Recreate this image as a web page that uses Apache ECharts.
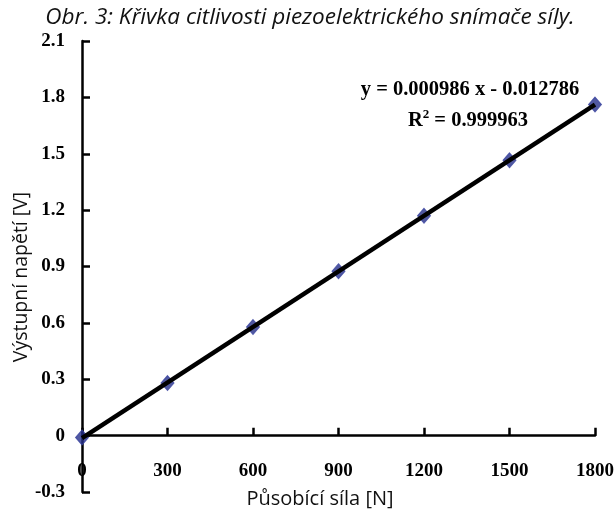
<!DOCTYPE html>
<html>
<head>
<meta charset="utf-8">
<script src="https://cdn.jsdelivr.net/npm/echarts@6/dist/echarts.min.js"></script>
<style>
  html, body { margin: 0; padding: 0; background: #fff; }
  #chart { width: 615px; height: 516px; }
</style>
</head>
<body>
<div id="chart"></div>
<script>
// measured points
const forceN = [0, 300, 600, 900, 1200, 1500, 1800];
const voltageV = [-0.01, 0.28, 0.578, 0.875, 1.17, 1.465, 1.762];
// linear trend line ends
const trendX = [0, 1800];
const trendY = [-0.012786, 1.762014];

const serif = '"Liberation Serif", "DejaVu Serif", serif';
const sans = '"Open Sans", "Noto Sans", sans-serif';

const chart = echarts.init(document.getElementById('chart'));

chart.setOption({
  animation: false,
  backgroundColor: '#fff',
  grid: { left: 82, right: 20, top: 41, bottom: 24, containLabel: false, outerBoundsMode: 'none' },
  xAxis: {
    type: 'value',
    min: 0, max: 1800, interval: 300,
    axisLine: { onZero: true, lineStyle: { color: '#000', width: 2.5 } },
    axisTick: { inside: true, length: 8, lineStyle: { color: '#000', width: 2.5 } },
    // labels sit just under the zero line, above the -0.3 bottom edge
    axisLabel: {
      inside: true, margin: 11,
      fontFamily: serif, fontWeight: 'bold', fontSize: 19, color: '#000',
      formatter: v => String(v)
    },
    splitLine: { show: false }
  },
  yAxis: {
    type: 'value',
    min: -0.3, max: 2.1, interval: 0.3,
    axisLine: { show: true, lineStyle: { color: '#000', width: 2.5 } },
    axisTick: { show: true, inside: true, length: 8, lineStyle: { color: '#000', width: 2.5 } },
    axisLabel: {
      fontFamily: serif, fontWeight: 'bold', fontSize: 19, color: '#000', margin: 17,
      formatter: v => {
        const r = Math.round(v * 10) / 10;
        return r === 0 ? '0' : r.toFixed(1);
      }
    },
    splitLine: { show: false }
  },
  graphic: [
    {
      type: 'text', x: 310, y: 18,
      style: {
        text: 'Obr. 3: Křivka citlivosti piezoelektrického snímače síly.',
        font: 'italic 22.5px ' + sans, fill: '#111',
        textAlign: 'center', textVerticalAlign: 'middle'
      }
    },
    {
      type: 'text', x: 320, y: 499,
      style: {
        text: 'Působící síla [N]', font: '20px ' + sans, fill: '#111',
        textAlign: 'center', textVerticalAlign: 'middle'
      }
    },
    {
      type: 'text', x: 21, y: 277, rotation: Math.PI / 2,
      style: {
        text: 'Výstupní napětí [V]', font: '19.5px ' + sans, fill: '#111',
        textAlign: 'center', textVerticalAlign: 'middle'
      }
    },
    {
      type: 'text', x: 470, y: 90,
      style: {
        text: 'y = 0.000986 x - 0.012786', font: 'bold 20.5px ' + serif, fill: '#000',
        textAlign: 'center', textVerticalAlign: 'middle'
      }
    },
    {
      type: 'text', x: 468, y: 120,
      style: {
        text: '{b|R}{s|2}{b| = 0.999963}',
        textAlign: 'center', textVerticalAlign: 'middle',
        rich: {
          b: { font: 'bold 20.5px ' + serif, fill: '#000', verticalAlign: 'bottom' },
          s: { font: 'bold 13px ' + serif, fill: '#000', verticalAlign: 'top', padding: [0, 0, 10, 0] }
        }
      }
    }
  ],
  series: [
    {
      type: 'line',
      data: trendX.map((x, i) => [x, trendY[i]]),
      symbol: 'none',
      lineStyle: { color: '#000', width: 4.5 },
      z: 3
    },
    {
      type: 'scatter',
      data: forceN.map((x, i) => [x, voltageV[i]]),
      symbol: 'diamond',
      symbolSize: [13, 15],
      itemStyle: { color: '#26308a', borderColor: '#3a43a0', borderWidth: 1 },
      z: 2
    }
  ]
});
</script>
</body>
</html>
